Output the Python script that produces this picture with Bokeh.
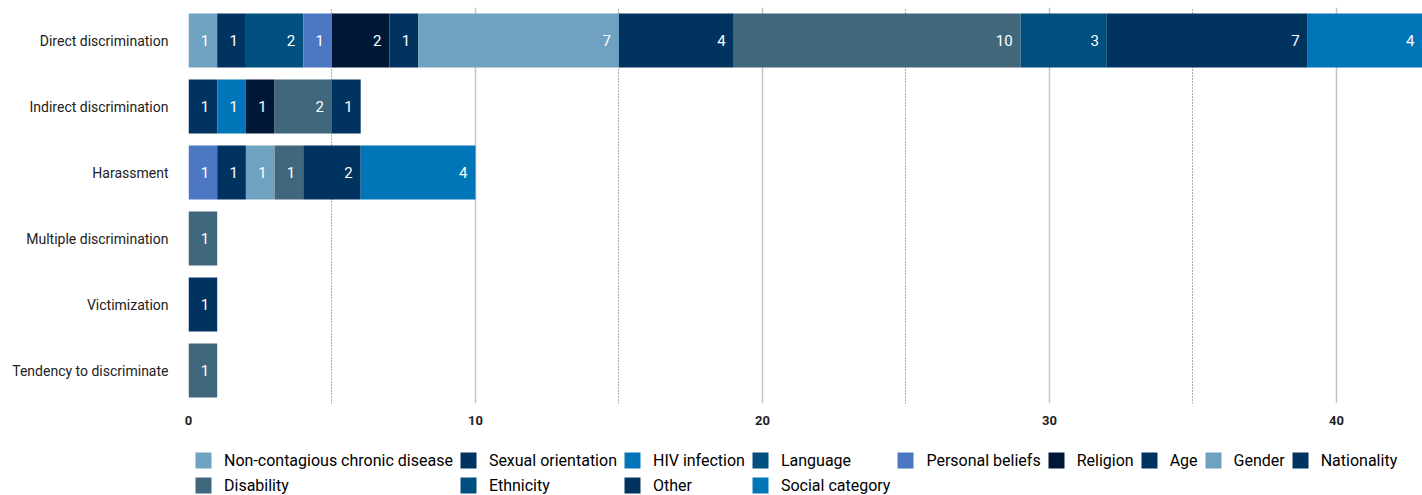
from bokeh.plotting import figure
from bokeh.layouts import column
from bokeh.models import ColumnDataSource, FactorRange, Range1d, FixedTicker, Legend
from bokeh.core.properties import value
from bokeh.embed import file_html
from bokeh.resources import INLINE

categories = ["Direct discrimination", "Indirect discrimination", "Harassment",
              "Multiple discrimination", "Victimization", "Tendency to discriminate"]

series = ["Non-contagious chronic disease", "Sexual orientation", "HIV infection", "Language",
          "Personal beliefs", "Religion", "Age", "Gender", "Nationality", "Disability",
          "Ethnicity", "Other", "Social category"]

colors = ["#6fa1c1", "#00335f", "#0076b8", "#004f7f", "#4c77c3", "#001838", "#00335f",
          "#6fa1c1", "#00335f", "#40677c", "#004f7f", "#00335f", "#0076b8"]

non_contagious = [1, 0, 0, 0, 0, 0]
sexual_orientation = [1, 1, 0, 0, 1, 0]
hiv_infection = [0, 1, 0, 0, 0, 0]
language = [2, 0, 0, 0, 0, 0]
personal_beliefs = [1, 0, 1, 0, 0, 0]
religion = [2, 1, 0, 0, 0, 0]
age = [1, 0, 1, 0, 0, 0]
gender = [7, 0, 1, 0, 0, 0]
nationality = [4, 0, 0, 0, 0, 0]
disability = [10, 2, 1, 1, 0, 1]
ethnicity = [3, 0, 0, 0, 0, 0]
other = [7, 1, 2, 0, 0, 0]
social_category = [4, 0, 4, 0, 0, 0]

values = [non_contagious, sexual_orientation, hiv_infection, language, personal_beliefs,
          religion, age, gender, nationality, disability, ethnicity, other, social_category]

FONT = "Roboto"

data = {"cat": categories}
for s, v in zip(series, values):
    data[s] = v
source = ColumnDataSource(data)

p = figure(width=1422, height=438, output_backend="svg", toolbar_location=None,
           y_range=FactorRange(*reversed(categories)), x_range=Range1d(0, 43),
           min_border_left=188, min_border_right=0, min_border_top=7,
           min_border_bottom=35)

renderers = p.hbar_stack(series, y="cat", height=0.82, color=colors, source=source,
                         line_width=0)

# labels
lx, ly, lt = [], [], []
for i, c in enumerate(categories):
    cum = 0
    for v in values:
        val = v[i]
        if val > 0:
            cum += val
            lx.append(cum)
            ly.append(c)
            lt.append(str(val))
lsrc = ColumnDataSource(dict(x=lx, y=ly, t=lt))
p.text(x="x", y="y", text="t", source=lsrc, text_align="right", text_baseline="middle",
       x_offset=-8, text_color="white", text_font=value(FONT), text_font_size="15px")

p.outline_line_color = None
p.ygrid.grid_line_color = None
p.xaxis.ticker = FixedTicker(ticks=[0, 10, 20, 30, 40], minor_ticks=[5, 15, 25, 35])
p.xgrid.grid_line_color = "#c4c4c4"
p.xgrid.grid_line_width = 1.5
p.xgrid.minor_grid_line_color = "#555555"
p.xgrid.minor_grid_line_dash = "1 2"
p.xgrid.minor_grid_line_width = 1

for ax in (p.xaxis, p.yaxis):
    ax.axis_line_color = None
    ax.major_tick_line_color = None
    ax.minor_tick_line_color = None
    ax.major_label_text_font = FONT
    ax.major_label_text_color = "#222222"
p.yaxis.major_label_text_font_size = "14px"
p.yaxis.major_label_standoff = 14
p.xaxis.major_label_text_font_size = "13px"
p.xaxis.major_label_text_font_style = "bold"
p.xaxis.major_label_standoff = 6

# legend in its own strip below the chart
lg = figure(width=1422, height=57, output_backend="svg", toolbar_location=None,
            x_range=Range1d(0, 1), y_range=Range1d(0, 1),
            min_border_left=0, min_border_right=0, min_border_top=0, min_border_bottom=0)
lg.axis.visible = False
lg.grid.visible = False
lg.outline_line_color = None
dummies = [lg.rect(x=[-5], y=[-5], width=0.1, height=0.1, color=c, line_width=0)
           for c in colors]

leg = Legend(items=[(s, [r]) for s, r in zip(series, dummies)])
leg.orientation = "horizontal"
leg.ncols = 9
leg.location = (5, 0)
leg.label_text_font = FONT
leg.label_text_font_size = "16px"
leg.label_text_color = "#000000"
leg.glyph_width = 20
leg.glyph_height = 20
leg.label_height = 20
leg.label_standoff = 11
leg.spacing = 5
leg.padding = 0
leg.margin = 0
leg.border_line_color = None
leg.background_fill_alpha = 0
lg.add_layout(leg, "center")

layout = column(p, lg, spacing=0)
open("out.html", "w").write(file_html(layout, INLINE))
